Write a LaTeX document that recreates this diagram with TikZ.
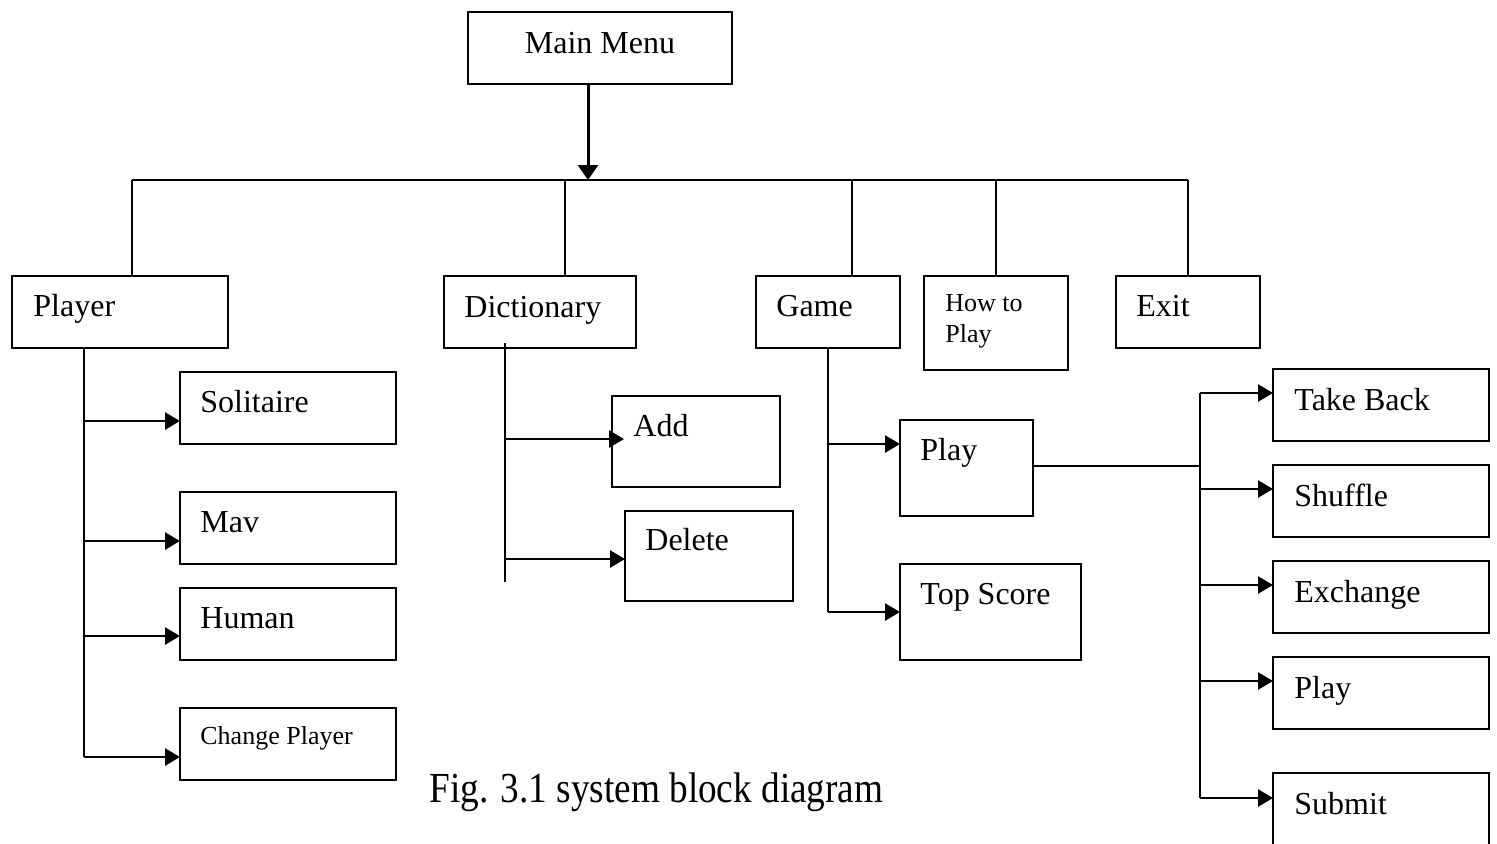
\documentclass[tikz,border=0pt]{standalone}
\usepackage{fontspec}
\setmainfont{Liberation Serif}
\usepackage{graphicx}
\usetikzlibrary{arrows.meta,calc}
\begin{document}
\begin{tikzpicture}[x=0.5pt,y=-0.5pt,
  box/.style={draw,line width=1pt,anchor=north west,inner sep=0pt,outer sep=0pt},
  lbl/.style={anchor=base west,inner sep=0pt,font=\fontsize{16}{19}\selectfont},
  small/.style={anchor=base west,inner sep=0pt,font=\fontsize{13}{16}\selectfont},
  wire/.style={line width=1pt},
  spine/.style={line width=1.15pt},
  arr/.style={line width=1.4pt,-{Triangle[length=7.5pt,width=8.5pt]}}]
\useasboundingbox (0,0) rectangle (1497,843);
\clip (0,0) rectangle (1497,843);

% top level
\node[box,line width=1.3pt,minimum width=132pt,minimum height=36pt] (mm) at (468,12) {};
\node[lbl,anchor=base] (mmt) at ($(mm.north)+(0,41)$) {Main Menu};

\node[box,minimum width=108pt,minimum height=36pt] (pl)   at (12,276) {};
\node[box,minimum width=96pt, minimum height=36pt] (dict) at (444,276) {};
\node[box,minimum width=72pt, minimum height=36pt] (game) at (756,276) {};
\node[box,minimum width=72pt, minimum height=47pt] (how)  at (924,276) {};
\node[box,minimum width=72pt, minimum height=36pt] (exit) at (1116,276) {};

\node[lbl] (plt)   at ($(pl.north west)+(21,40)$)   {Player};
\node[lbl] (dictt) at ($(dict.north west)+(20,41)$) {Dictionary};
\node[lbl] (gamet) at ($(game.north west)+(20,40)$) {Game};
\node[small] (howt1) at ($(how.north west)+(21,35.5)$) {How to};
\node[small] (howt2) at ($(how.north west)+(21,66.5)$) {Play};
\node[lbl] (exitt) at ($(exit.north west)+(20,40.5)$) {Exit};

% bus from the main menu
\coordinate (hub)   at (588,180);
\coordinate (busL)  at (132,180);
\coordinate (busR)  at (1188,180);
\coordinate (dDict) at (565,180);
\coordinate (dGame) at (852,180);
\coordinate (dHow)  at (996,180);
\draw[line width=1.5pt,-{Triangle[length=7.5pt,width=10pt]}] (mm.south -| hub) -- (hub);
\draw[wire] (busL) -- (busR);
\draw[wire] (busL)  -- (busL |- pl.north);
\draw[wire] (dDict) -- (dDict |- dict.north);
\draw[wire] (dGame) -- (dGame |- game.north);
\draw[wire] (dHow)  -- (dHow |- how.north);
\draw[wire] (busR)  -- (busR |- exit.north);

% player branch
\node[box,minimum width=108pt,minimum height=36pt] (sol) at (180,372) {};
\node[box,minimum width=108pt,minimum height=36pt] (mav) at (180,492) {};
\node[box,minimum width=108pt,minimum height=36pt] (hum) at (180,588) {};
\node[box,minimum width=108pt,minimum height=36pt] (chg) at (180,708) {};
\node[lbl] (solt) at ($(sol.north west)+(20,40)$) {Solitaire};
\node[lbl] (mavt) at ($(mav.north west)+(20,40)$) {Mav};
\node[lbl] (humt) at ($(hum.north west)+(20,40)$) {Human};
\node[small] (chgt) at ($(chg.north west)+(20,36)$) {Change Player};
\coordinate (pEnd) at (84,757);
\draw[spine] (pl.south -| pEnd) -- (pEnd);
\draw[arr] ($(sol.north west)+(-96,49)$) -- ($(sol.north west)+(0,49)$);
\draw[arr] ($(mav.north west)+(-96,49)$) -- ($(mav.north west)+(0,49)$);
\draw[arr] ($(hum.north west)+(-96,48)$) -- ($(hum.north west)+(0,48)$);
\draw[arr] ($(chg.north west)+(-96,49)$) -- ($(chg.north west)+(0,49)$);

% dictionary branch
\node[box,minimum width=84pt,minimum height=45.5pt] (add) at (612,396) {};
\node[box,minimum width=84pt,minimum height=45pt]   (del) at (625,511) {};
\node[lbl] (addt) at ($(add.north west)+(21,40)$) {Add};
\node[lbl] (delt) at ($(del.north west)+(20,39)$) {Delete};
\coordinate (dTop) at (505,343);
\coordinate (dEnd) at (505,582);
\draw[spine] (dTop) -- (dEnd);
\draw[arr] ($(add.north west)+(-107,43)$) -- ($(add.north west)+(12,43)$);
\draw[arr] ($(del.north west)+(-120,48)$) -- ($(del.north west)+(0,48)$);

% game branch
\node[box,minimum width=66.5pt,minimum height=48pt] (play) at (900,420) {};
\node[box,minimum width=90.5pt,minimum height=48pt] (top)  at (900,564) {};
\node[lbl] (playt) at ($(play.north west)+(20,40)$) {Play};
\node[lbl] (topt)  at ($(top.north west)+(20,40)$)  {Top Score};
\coordinate (gEnd) at (828,612);
\draw[spine] (game.south -| gEnd) -- (gEnd);
\draw[arr] ($(play.north west)+(-72,24)$) -- ($(play.north west)+(0,24)$);
\draw[arr] (gEnd) -- (gEnd -| top.west);

% in-game actions
\node[box,minimum width=108pt,minimum height=36pt] (tb) at (1273,369) {};
\node[box,minimum width=108pt,minimum height=36pt] (sh) at (1273,465) {};
\node[box,minimum width=108pt,minimum height=36pt] (ex) at (1273,561) {};
\node[box,minimum width=108pt,minimum height=36pt] (pa) at (1273,657) {};
\node[box,minimum width=108pt,minimum height=36pt] (su) at (1273,773) {};
\node[lbl] (tbt) at ($(tb.north west)+(21,41)$) {Take Back};
\node[lbl] (sht) at ($(sh.north west)+(21,41)$) {Shuffle};
\node[lbl] (ext) at ($(ex.north west)+(21,41)$) {Exchange};
\node[lbl] (pat) at ($(pa.north west)+(21,41)$) {Play};
\node[lbl] (sut) at ($(su.north west)+(21,41)$) {Submit};
\coordinate (aTop) at (1200,393);
\coordinate (aEnd) at (1200,798);
\coordinate (aMid) at (1200,466);
\draw[wire] (play.east |- aMid) -- (aMid);
\draw[spine] (aTop) -- (aEnd);
\draw[arr] (aTop) -- (aTop -| tb.west);
\draw[arr] ($(sh.north west)+(-73,24)$) -- ($(sh.north west)+(0,24)$);
\draw[arr] ($(ex.north west)+(-73,24)$) -- ($(ex.north west)+(0,24)$);
\draw[arr] ($(pa.north west)+(-73,24)$) -- ($(pa.north west)+(0,24)$);
\draw[arr] (aEnd) -- (aEnd -| su.west);

% caption
\node[anchor=base west,inner sep=0pt] (cap) at (429,802)
  {\scalebox{0.87}[1]{\fontsize{21.4}{25}\selectfont Fig. 3.1 system block diagram}};
\end{tikzpicture}
\end{document}
